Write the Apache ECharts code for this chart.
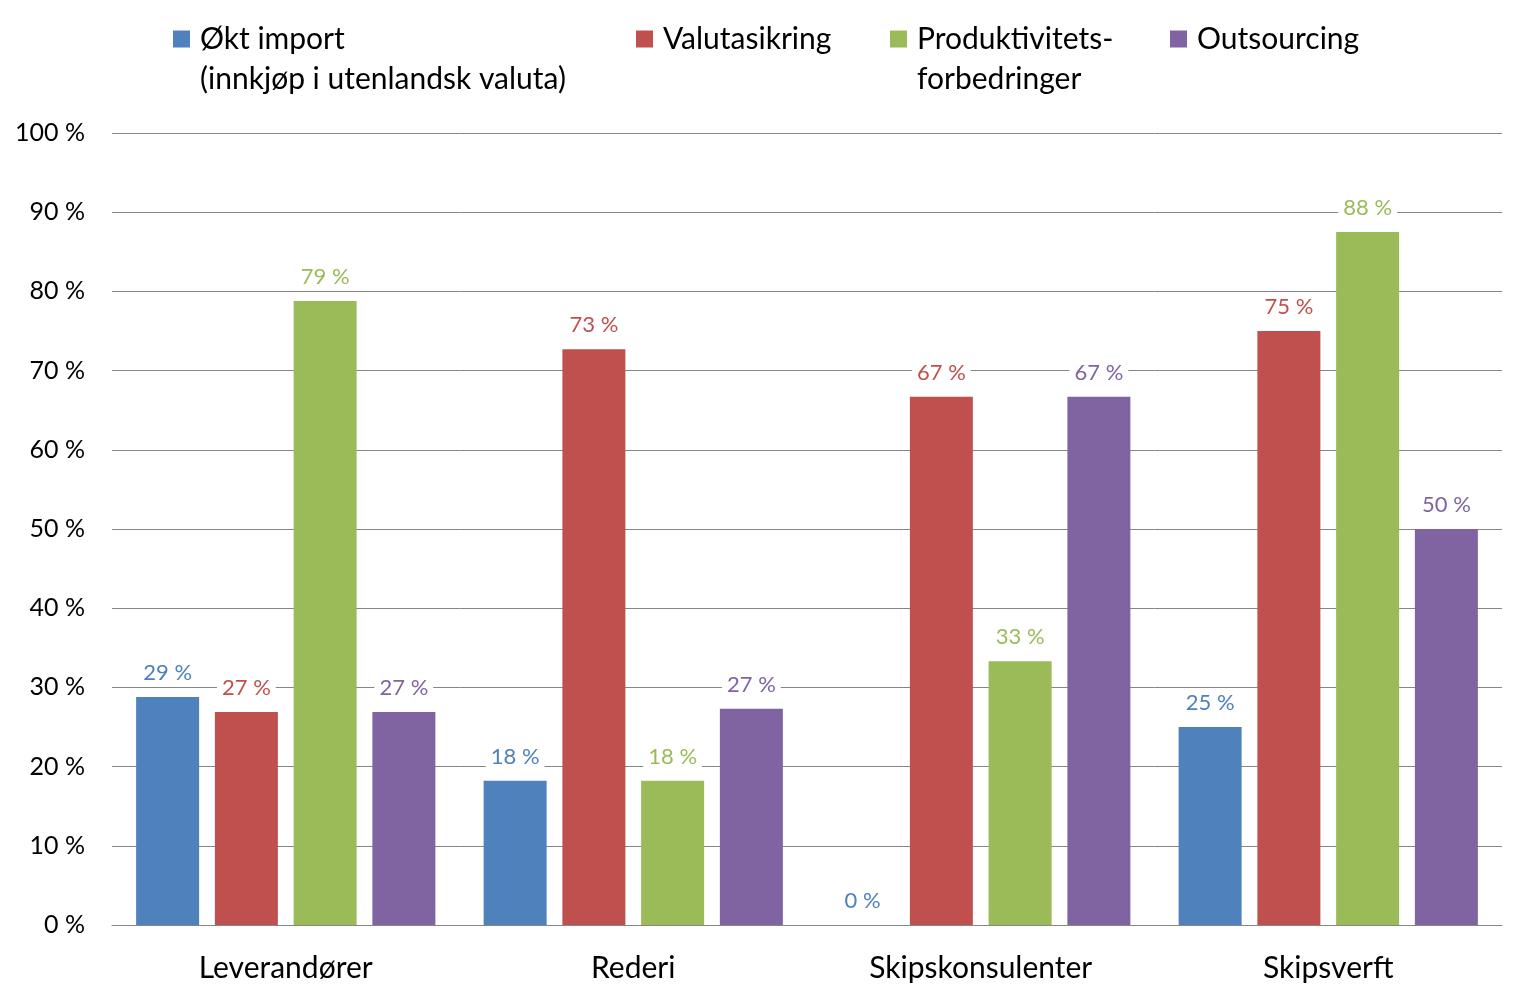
<!DOCTYPE html>
<html>
<head>
<meta charset="utf-8">
<script src="https://cdn.jsdelivr.net/npm/echarts@6/dist/echarts.min.js"></script>
<style>
  html, body { margin: 0; padding: 0; background: #fff; }
  #chart { width: 1524px; height: 1001px; }
</style>
</head>
<body>
<div id="chart"></div>
<script>
const categories = ['Leverandører', 'Rederi', 'Skipskonsulenter', 'Skipsverft'];
const yTicks = [0, 10, 20, 30, 40, 50, 60, 70, 80, 90, 100];

const importValues = [28.8, 18.2, 0, 25];
const hedgeValues = [26.9, 72.7, 66.7, 75];
const productivityValues = [78.8, 18.2, 33.3, 87.5];
const outsourcingValues = [26.9, 27.3, 66.7, 50];

const seriesNames = [
    'Økt import\n(innkjøp i utenlandsk valuta)',
    'Valutasikring',
    'Produktivitets-\nforbedringer',
    'Outsourcing'
];
const colors = ['#4F81BD', '#C0504D', '#9BBB59', '#8064A2'];
const legendLeft = [173, 636, 890, 1170];

const font = 'Lato, "Open Sans", sans-serif';
const chart = echarts.init(document.getElementById('chart'));

const allValues = [importValues, hedgeValues, productivityValues, outsourcingValues];

const series = allValues.map((vals, i) => ({
    name: seriesNames[i],
    type: 'bar',
    data: vals,
    barWidth: 63,
    barGap: '25%',
    itemStyle: { color: colors[i] },
    label: {
        show: true,
        position: 'top',
        distance: 11,
        color: colors[i],
        fontFamily: font,
        fontSize: 22,
        backgroundColor: '#fff',
        padding: [2, 5],
        formatter: p => Math.round(p.value) + ' %'
    }
}));

// one legend per series so each can sit where the original has it;
// only the first line goes in the legend, the second line is a text graphic
const legends = seriesNames.map((name, i) => ({
    data: [name],
    left: legendLeft[i],
    top: 19,
    padding: 0,
    itemWidth: 17,
    itemHeight: 17,
    icon: 'rect',
    formatter: n => n.split('\n')[0],
    textStyle: {
        fontFamily: font,
        fontSize: 30,
        color: '#000',
        lineHeight: 40,
        padding: [0, 0, 0, 5]
    }
}));

const secondLines = [];
seriesNames.forEach((name, i) => {
    const parts = name.split('\n');
    if (parts.length > 1) {
        secondLines.push({
            type: 'text',
            left: legendLeft[i] + 27,
            top: 59,
            style: {
                text: parts[1],
                font: '30px ' + font,
                fill: '#000',
                lineHeight: 40
            }
        });
    }
});

const option = {
    backgroundColor: '#fff',
    animation: false,
    color: colors,
    legend: legends,
    graphic: secondLines,
    grid: { left: 112, right: 22, top: 133, bottom: 76, containLabel: false },
    xAxis: {
        type: 'category',
        data: categories,
        axisTick: { show: false },
        axisLine: { lineStyle: { color: '#868686', width: 1 } },
        axisLabel: { color: '#000', fontFamily: font, fontSize: 30, margin: 28 }
    },
    yAxis: {
        type: 'value',
        min: yTicks[0],
        max: yTicks[yTicks.length - 1],
        interval: 10,
        axisLine: { show: false },
        axisTick: { show: false },
        splitLine: { lineStyle: { color: '#868686', width: 1 } },
        axisLabel: {
            color: '#000',
            fontFamily: font,
            fontSize: 25,
            margin: 27,
            formatter: '{value} %'
        }
    },
    series: series
};

chart.setOption(option);
</script>
</body>
</html>
